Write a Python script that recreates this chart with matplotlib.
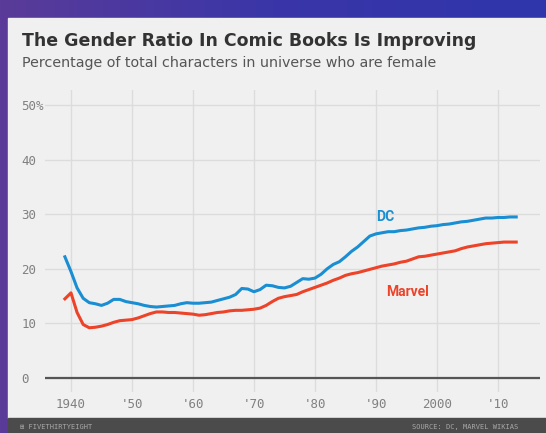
import numpy as np
import matplotlib.pyplot as plt
from matplotlib.colors import LinearSegmentedColormap
from matplotlib.patches import Rectangle

years = np.arange(1939, 2014)
dc = [22.2, 19.5, 16.5, 14.6, 13.8, 13.6, 13.3, 13.7, 14.4, 14.4,
      14.0, 13.8, 13.6, 13.3, 13.1, 13.0, 13.1, 13.2, 13.3, 13.6,
      13.8, 13.7, 13.7, 13.8, 13.9, 14.2, 14.5, 14.8, 15.3, 16.4,
      16.3, 15.8, 16.2, 17.0, 16.9, 16.6, 16.5, 16.8, 17.5, 18.2,
      18.1, 18.3, 19.0, 20.0, 20.8, 21.3, 22.2, 23.2, 24.0, 25.0,
      26.0, 26.4, 26.6, 26.8, 26.8, 27.0, 27.1, 27.3, 27.5, 27.6,
      27.8, 27.9, 28.1, 28.2, 28.4, 28.6, 28.7, 28.9, 29.1, 29.3,
      29.3, 29.4, 29.4, 29.5, 29.5]
marvel = [14.5, 15.6, 12.0, 9.8, 9.2, 9.3, 9.5, 9.8, 10.2, 10.5,
          10.6, 10.7, 11.0, 11.4, 11.8, 12.1, 12.1, 12.0, 12.0, 11.9,
          11.8, 11.7, 11.5, 11.6, 11.8, 12.0, 12.1, 12.3, 12.4, 12.4,
          12.5, 12.6, 12.8, 13.3, 14.0, 14.6, 14.9, 15.1, 15.3, 15.8,
          16.2, 16.6, 17.0, 17.4, 17.9, 18.3, 18.8, 19.1, 19.3, 19.6,
          19.9, 20.2, 20.5, 20.7, 20.9, 21.2, 21.4, 21.8, 22.2, 22.3,
          22.5, 22.7, 22.9, 23.1, 23.3, 23.7, 24.0, 24.2, 24.4, 24.6,
          24.7, 24.8, 24.9, 24.9, 24.9]

xticks = [1940, 1950, 1960, 1970, 1980, 1990, 2000, 2010]
xlabels = ['1940', "'50", "'60", "'70", "'80", "'90", '2000', "'10"]
yticks = [0, 10, 20, 30, 40, 50]
ylabels = ['0', '10', '20', '30', '40', '50%']

W, H = 546, 433
fig = plt.figure(figsize=(W / 100, H / 100), dpi=100)

# purple frame with a gradient, light panel, dark footer
bg = fig.add_axes([0, 0, 1, 1])
bg.axis('off')
cmap = LinearSegmentedColormap.from_list('frame', ['#5a3b99', '#3a36a8', '#2f35ab'])
bg.imshow(np.linspace(0, 1, 256)[None, :], cmap=cmap, aspect='auto',
          extent=[0, 1, 0, 1])
bg.set_xlim(0, 1)
bg.set_ylim(0, 1)
bg.add_patch(Rectangle((8 / W, 15 / H), 1 - 8 / W, 400 / H, color='#f0f0f0'))
bg.add_patch(Rectangle((8 / W, 0), 1 - 8 / W, 15 / H, color='#4b4b4b'))

fig.text(22 / W, 1 - 41 / H, 'The Gender Ratio In Comic Books Is Improving',
         family='DejaVu Sans', weight='bold', fontsize=12.5, color='#333333',
         va='center')
fig.text(22 / W, 1 - 63 / H,
         'Percentage of total characters in universe who are female',
         family='DejaVu Sans', fontsize=10.3, color='#555555', va='center')
fig.text(20 / W, 1 - 427 / H, '\u229e FIVETHIRTYEIGHT', family='DejaVu Sans Mono',
         fontsize=5, color='#a8a8a8', va='center')
fig.text(518 / W, 1 - 427 / H, 'SOURCE: DC, MARVEL WIKIAS', family='DejaVu Sans Mono',
         fontsize=5, color='#a8a8a8', va='center', ha='right')

ax = fig.add_axes([45 / W, 1 - 392 / H, 495 / W, 302 / H])
ax.set_facecolor('none')
ax.set_xlim(1935.74, 2016.9)
ax.set_ylim(-2.56, 52.75)
for s in ax.spines.values():
    s.set_visible(False)

ax.set_xticks(xticks)
ax.set_xticklabels(xlabels)
ax.set_yticks(yticks)
ax.set_yticklabels(ylabels)
ax.tick_params(length=0, labelsize=9, labelcolor='#808080')
ax.tick_params(axis='x', pad=4)
ax.tick_params(axis='y', pad=17)
for lab in ax.get_xticklabels() + ax.get_yticklabels():
    lab.set_family('DejaVu Sans Mono')
for lab in ax.get_yticklabels():
    lab.set_ha('left')
ax.grid(True, color='#dcdcdc', lw=1)
ax.set_axisbelow(True)
ax.axhline(0, color='#555555', lw=1.6, zorder=2)

ax.plot(years, dc, color='#1a8ed2', lw=2.2, zorder=3)
ax.plot(years, marvel, color='#ec4329', lw=2.2, zorder=3)

ax.text(1991.5, 29.5, 'DC', color='#1a8ed2', weight='bold', fontsize=10,
        family='Roboto', ha='center', va='center')
ax.text(1995.2, 15.75, 'Marvel', color='#ec4329', weight='bold', fontsize=10,
        family='Roboto', ha='center', va='center')

fig.savefig('out.png', dpi=100)
